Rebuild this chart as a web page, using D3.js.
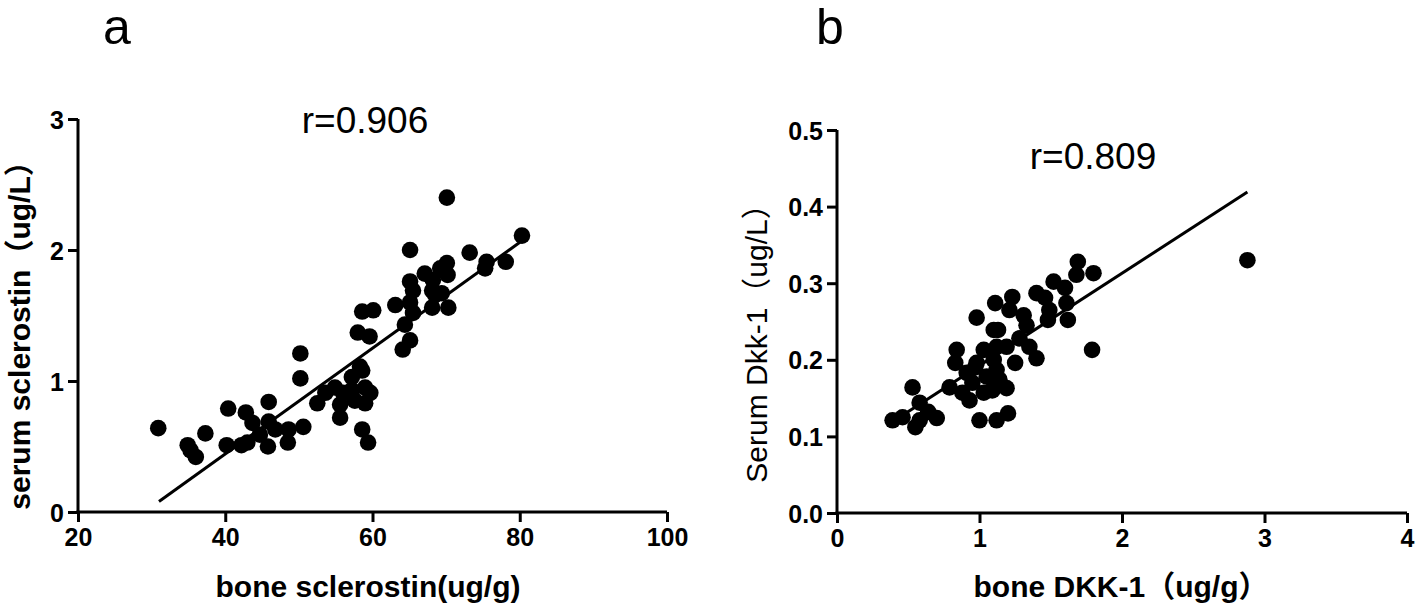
<!DOCTYPE html>
<html><head><meta charset="utf-8">
<script src="https://cdn.jsdelivr.net/npm/d3@7"></script>
<style>
html,body{margin:0;padding:0;background:#fff;}
svg{display:block;}
text{font-family:"Liberation Sans",Arial,"Noto Sans CJK SC",sans-serif;fill:#000;}
</style></head>
<body>
<svg id="c" width="1418" height="607"></svg>
<script>
// ---- Panel a data: bone sclerostin (ug/g) vs serum sclerostin (ug/L)
const boneSclerostin = [30.9,34.9,35.3,36.0,37.3,40.4,40.2,42.8,45.9,43.7,42.2,43.0,45.8,45.9,46.8,48.6,48.5,50.6,44.7,
  50.2,50.2,52.5,53.6,54.9,55.6,55.6,57.2,58.6,59.0,59.0,57.2,58.6,59.4,57.6,58.0,59.6,56.0,59.7,58.3,
  58.6,60.1,63.1,64.4,64.1,65.1,65.5,65.1,65.1,65.5,65.1,67.1,68.2,68.1,68.5,69.4,70.3,68.1,69.2,70.1,70.2,70.1,73.2,75.5,75.3,78.1,80.3];
const serumSclerostin = [0.64,0.51,0.47,0.42,0.60,0.79,0.51,0.76,0.84,0.68,0.51,0.53,0.50,0.69,0.63,0.63,0.53,0.65,0.59,
  1.21,1.02,0.83,0.91,0.95,0.82,0.72,1.03,1.08,0.95,0.83,0.93,0.63,0.53,0.85,1.37,1.34,0.91,0.91,1.11,
  1.53,1.54,1.58,1.43,1.24,1.31,1.52,1.60,1.76,1.69,2.00,1.82,1.77,1.69,1.66,1.67,1.56,1.56,1.86,1.90,1.81,2.40,1.98,1.91,1.86,1.91,2.11];
const fitAX = [31, 80.3];
const fitAY = [0.08, 2.07];
const xTicksA = [20,40,60,80,100];
const yTicksA = [0,1,2,3];

// ---- Panel b data: bone DKK-1 (ug/g) vs serum Dkk-1 (ug/L)
const boneDkk = [0.39,0.46,0.55,0.53,0.58,0.64,0.58,0.70,0.84,0.83,0.98,1.11,0.79,0.88,0.93,1.00,1.12,0.91,0.98,1.03,0.95,1.03,1.05,1.10,1.10,1.12,
  1.69,1.80,1.68,1.52,1.60,1.40,1.46,1.61,1.49,1.48,1.62,1.23,1.21,1.31,1.33,1.13,1.28,1.19,1.35,1.40,1.25,1.12,1.14,1.19,1.79,1.20,1.09,0.97,2.88];
const serumDkk = [0.121,0.125,0.112,0.164,0.144,0.132,0.121,0.124,0.213,0.196,0.255,0.274,0.164,0.157,0.147,0.121,0.121,0.183,0.196,0.213,0.170,0.157,0.178,0.200,0.239,0.217,
  0.328,0.313,0.311,0.302,0.294,0.287,0.281,0.274,0.265,0.252,0.252,0.282,0.265,0.258,0.245,0.239,0.228,0.217,0.217,0.202,0.196,0.187,0.174,0.163,0.213,0.130,0.160,0.190,0.330];
const fitBX = [0.39, 2.88];
const fitBY = [0.119, 0.419];
const xTicksB = [0,1,2,3,4];
const yTicksB = [0,0.1,0.2,0.3,0.4,0.5];

const svg = d3.select("#c");

function panel(o){
  const g = svg.append("g");
  const x = d3.scaleLinear().domain(o.xDomain).range([o.left, o.right]);
  const y = d3.scaleLinear().domain(o.yDomain).range([o.bottom, o.top]);
  const xa = g.append("g").attr("transform",`translate(0,${o.bottom})`)
    .call(d3.axisBottom(x).tickValues(o.xTicks).tickFormat(o.xFmt).tickSize(10).tickSizeOuter(0).tickPadding(6));
  const ya = g.append("g").attr("transform",`translate(${o.left},0)`)
    .call(d3.axisLeft(y).tickValues(o.yTicks).tickFormat(o.yFmt).tickSize(10).tickSizeOuter(0).tickPadding(4));
  [xa,ya].forEach(a=>{
    a.selectAll("path,line").attr("stroke","#000").attr("stroke-width",3);
    a.selectAll("text").attr("font-size",25).attr("font-weight","bold")
      .attr("font-family","'Liberation Sans',Arial,sans-serif");
  });
  ya.selectAll("text").attr("dy","0.36em");
  xa.select("path").attr("d",`M${o.left-1.5},0H${o.right}`);
  ya.select("path").attr("d",`M0,${o.top}V${o.bottom+1.5}`);
  // fit line
  g.append("line")
    .attr("x1",x(o.fitX[0])).attr("y1",y(o.fitY[0]))
    .attr("x2",x(o.fitX[1])).attr("y2",y(o.fitY[1]))
    .attr("stroke","#000").attr("stroke-width",3);
  // points
  g.selectAll("circle").data(o.xs.map((v,i)=>[v,o.ys[i]])).join("circle")
    .attr("cx",d=>x(d[0])).attr("cy",d=>y(d[1])).attr("r",8.3).attr("fill","#000");
  // labels
  g.append("text").attr("x",o.xLabelX).attr("y",597).attr("text-anchor","middle")
    .attr("font-size",30).attr("font-weight","bold").text(o.xLabel);
  g.append("text").attr("transform",`translate(${o.yLabelX},${o.yLabelY}) rotate(-90)`)
    .attr("text-anchor","middle").attr("font-size",o.yLabelSize).attr("font-weight",o.yBold?"bold":"normal").text(o.yLabel);
  g.append("text").attr("x",o.rX).attr("y",o.rY).attr("text-anchor","middle").attr("font-size",37).text(o.rText);
  g.append("text").attr("x",o.letterX).attr("y",44).attr("font-size",50).text(o.letter);
}

panel({left:78,right:667,top:119,bottom:512,xDomain:[20,100],yDomain:[0,3],
  xTicks:xTicksA,yTicks:yTicksA,xFmt:d3.format("d"),yFmt:d3.format("d"),
  xs:boneSclerostin,ys:serumSclerostin,fitX:fitAX,fitY:fitAY,
  xLabel:"bone sclerostin(ug/g)",xLabelX:368,yLabel:"serum sclerostin（ug/L）",yLabelX:30,yLabelY:328,yBold:true,yLabelSize:30,
  rText:"r=0.906",rX:365,rY:133,letter:"a",letterX:103});

panel({left:837,right:1407,top:130,bottom:513,xDomain:[0,4],yDomain:[0,0.5],
  xTicks:xTicksB,yTicks:yTicksB,xFmt:d3.format("d"),yFmt:d3.format(".1f"),
  xs:boneDkk,ys:serumDkk,fitX:fitBX,fitY:fitBY,
  xLabel:"bone DKK-1（ug/g）",xLabelX:1121,yLabel:"Serum Dkk-1（ug/L）",yLabelX:767,yLabelY:336,yBold:false,yLabelSize:30,
  rText:"r=0.809",rX:1093,rY:169,letter:"b",letterX:816});
</script>
</body></html>
